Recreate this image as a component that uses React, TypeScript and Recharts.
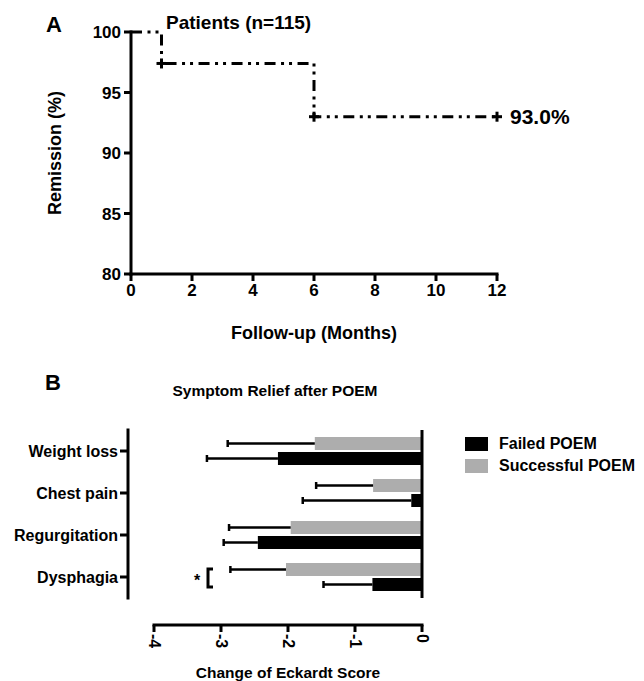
import React from 'react';
import {
  LineChart,
  Line,
  XAxis,
  YAxis,
  BarChart,
  Bar,
  ReferenceLine,
  Legend,
} from 'recharts';

const FONT = '"Liberation Sans", Arial, Helvetica, sans-serif';
const INK = '#000';
const GREY = '#adadad';

// Panel A: remission after POEM
const months = [0, 1, 6, 12];
const remission = [100, 97.4, 93.0, 93.0];
const censored = [false, true, true, true];
const monthTicks = [0, 2, 4, 6, 8, 10, 12];
const remissionTicks = [80, 85, 90, 95, 100];
const cohortLabel = 'Patients (n=115)';

// Panel B: change of Eckardt score per symptom (mean, SD)
const symptoms = ['Weight loss', 'Chest pain', 'Regurgitation', 'Dysphagia'];
const successfulMean = [-1.6, -0.73, -1.96, -2.03];
const successfulSd = [1.3, 0.85, 0.92, 0.83];
const failedMean = [-2.15, -0.16, -2.45, -0.74];
const failedSd = [1.06, 1.62, 0.51, 0.73];
const significant = [false, false, false, true];
const scoreTicks = [-4, -3, -2, -1, 0];
const legendOrder = ['Failed POEM', 'Successful POEM'];

const kmData = months.map((m, i) => ({
  month: m,
  remission: remission[i],
  censored: censored[i],
}));

const reliefData = symptoms.map((s, i) => ({
  symptom: s,
  successful: successfulMean[i],
  successfulSd: successfulSd[i],
  failed: failedMean[i],
  failedSd: failedSd[i],
  sig: significant[i],
}));

const tickStyle = { fill: INK, fontSize: 17, fontWeight: 700, fontFamily: FONT };
const lineStyle = { stroke: INK, strokeWidth: 3 };

function AxisTitle(props: any) {
  const { viewBox, text, vertical, shift = 0, size = 18 } = props;
  if (!viewBox) return null;
  const common = {
    fill: INK,
    fontSize: size,
    fontWeight: 700,
    fontFamily: FONT,
    textAnchor: 'middle' as const,
    dominantBaseline: 'central' as const,
  };
  if (vertical) {
    const x = viewBox.x + shift;
    const y = viewBox.y + viewBox.height / 2;
    return (
      <text {...common} x={x} y={y} transform={`rotate(-90 ${x} ${y})`}>
        {text}
      </text>
    );
  }
  return (
    <text {...common} x={viewBox.x + viewBox.width / 2} y={viewBox.y + shift}>
      {text}
    </text>
  );
}

function CensorMark(props: any) {
  const { cx, cy, payload } = props;
  if (!payload || !payload.censored) return <g />;
  const s = 5;
  return (
    <g>
      <line x1={cx - s} x2={cx + s} y1={cy} y2={cy} stroke={INK} strokeWidth={3} />
      <line x1={cx} x2={cx} y1={cy - s} y2={cy + s} stroke={INK} strokeWidth={3} />
    </g>
  );
}

function KmLabel(props: any) {
  const { x, y, index, value } = props;
  const base = { fill: INK, fontWeight: 700, fontFamily: FONT, dominantBaseline: 'central' as const };
  if (index === 0) {
    return (
      <text {...base} x={x + 35} y={y - 10} fontSize={19}>
        {cohortLabel}
      </text>
    );
  }
  if (index === months.length - 1) {
    return (
      <text {...base} x={x + 13} y={y} fontSize={21}>
        {Number(value).toFixed(1)}%
      </text>
    );
  }
  return null;
}

function makeBarShape(meanKey: string, sdKey: string) {
  return (props: any) => {
    const { x, y, width, height, fill, payload } = props;
    const left = Math.min(x, x + width);
    const w = Math.abs(width);
    const top = Math.min(y, y + height);
    const h = Math.abs(height);
    const mean = payload[meanKey];
    const pxPerUnit = mean !== 0 ? w / Math.abs(mean) : 0;
    const end = left - payload[sdKey] * pxPerUnit;
    const cy = top + h / 2;
    return (
      <g>
        <rect x={left} y={top} width={w} height={h} fill={fill} />
        <line x1={end} x2={left} y1={cy} y2={cy} stroke={INK} strokeWidth={2.5} />
        <line x1={end} x2={end} y1={cy - 3.5} y2={cy + 3.5} stroke={INK} strokeWidth={2.5} />
      </g>
    );
  };
}

function SymptomTick(props: any) {
  const { x, y, payload, index } = props;
  const sig = reliefData[index]?.sig;
  return (
    <g>
      <text
        x={x}
        y={y}
        textAnchor="end"
        dominantBaseline="central"
        fill={INK}
        fontSize={16}
        fontWeight={700}
        fontFamily={FONT}
      >
        {payload.value}
      </text>
      {sig && (
        <g>
          <text x={x + 79} y={y + 3} textAnchor="middle" dominantBaseline="central" fill={INK} fontSize={16} fontWeight={700} fontFamily={FONT}>
            *
          </text>
          <path
            d={`M ${x + 95} ${y - 8} H ${x + 90} V ${y + 10} H ${x + 95}`}
            fill="none"
            stroke={INK}
            strokeWidth={3}
          />
        </g>
      )}
    </g>
  );
}

function ScoreTick(props: any) {
  const { x, y, payload } = props;
  return (
    <text
      x={x}
      y={y}
      transform={`rotate(90 ${x} ${y})`}
      textAnchor="start"
      dominantBaseline="central"
      fill={INK}
      fontSize={16}
      fontWeight={700}
      fontFamily={FONT}
    >
      {payload.value}
    </text>
  );
}

function ReliefLegend(props: any) {
  const items = [...(props.payload || [])].sort(
    (a: any, b: any) => legendOrder.indexOf(a.value) - legendOrder.indexOf(b.value),
  );
  return (
    <div style={{ fontFamily: FONT }}>
      {items.map((it: any) => (
        <div key={it.value} style={{ display: 'flex', alignItems: 'center', height: 22 }}>
          <span style={{ width: 23, height: 14, background: it.color, display: 'inline-block' }} />
          <span style={{ marginLeft: 11, fontSize: 16, fontWeight: 700, color: INK }}>{it.value}</span>
        </div>
      ))}
    </div>
  );
}

const panelLetter = {
  position: 'absolute' as const,
  fontFamily: FONT,
  fontWeight: 700,
  fontSize: 22,
  lineHeight: '22px',
  color: INK,
};

export default function App() {
  return (
    <div
      style={{
        position: 'absolute',
        left: 0,
        top: 0,
        width: 644,
        height: 681,
        background: '#fff',
        overflow: 'hidden',
      }}
    >
      <div style={{ ...panelLetter, left: 46, top: 14 }}>A</div>
      <div style={{ ...panelLetter, left: 45, top: 372 }}>B</div>
      <div
        style={{
          position: 'absolute',
          left: 0,
          width: 550,
          top: 382,
          textAlign: 'center',
          fontFamily: FONT,
          fontWeight: 700,
          fontSize: 15.5,
          lineHeight: '18px',
          color: INK,
        }}
      >
        Symptom Relief after POEM
      </div>

      <div style={{ position: 'absolute', left: 0, top: 0 }}>
        <LineChart
          width={644}
          height={360}
          data={kmData}
          margin={{ top: 32, right: 147, left: 0, bottom: 0 }}
        >
          <XAxis
            dataKey="month"
            type="number"
            domain={[0, 12]}
            ticks={monthTicks}
            height={86}
            tickSize={7}
            tickMargin={3}
            axisLine={{ ...lineStyle, strokeLinecap: 'square' }}
            tickLine={lineStyle}
            tick={tickStyle}
            label={<AxisTitle text="Follow-up (Months)" shift={59} />}
          />
          <YAxis
            type="number"
            domain={[80, 100]}
            ticks={remissionTicks}
            width={131}
            tickSize={7}
            tickMargin={3}
            axisLine={{ ...lineStyle, strokeLinecap: 'square' }}
            tickLine={lineStyle}
            tick={tickStyle}
            label={<AxisTitle text="Remission (%)" vertical shift={55} />}
          />
          <Line
            dataKey="remission"
            type="stepAfter"
            stroke={INK}
            strokeWidth={3}
            strokeDasharray="11 5.5 3 5 3 5.5"
            dot={<CensorMark />}
            activeDot={false}
            label={<KmLabel />}
            isAnimationActive={false}
          />
        </LineChart>
      </div>

      <div style={{ position: 'absolute', left: 0, top: 360 }}>
        <BarChart
          width={644}
          height={321}
          data={reliefData}
          layout="vertical"
          margin={{ top: 70, right: 222, left: 0, bottom: 0 }}
          barSize={13}
          barGap={2}
        >
          <XAxis
            xAxisId="main"
            type="number"
            domain={[-4, 0]}
            ticks={scoreTicks}
            height={56}
            tickSize={7}
            tickMargin={2}
            axisLine={{ ...lineStyle, strokeLinecap: 'square' }}
            tickLine={lineStyle}
            tick={<ScoreTick />}
            label={<AxisTitle text="Change of Eckardt Score" shift={47} size={15.5} />}
          />
          <XAxis xAxisId="a_pad" type="number" domain={[-4, 0]} height={27} axisLine={false} tickLine={false} tick={false} />
          <YAxis
            yAxisId="main"
            type="category"
            dataKey="symptom"
            width={128}
            tickSize={8}
            tickMargin={2}
            axisLine={{ ...lineStyle, strokeLinecap: 'square' }}
            tickLine={lineStyle}
            tick={<SymptomTick />}
          />
          <YAxis yAxisId="a_pad" type="category" dataKey="symptom" width={26} axisLine={false} tickLine={false} tick={false} />
          <Bar
            xAxisId="main"
            yAxisId="main"
            dataKey="successful"
            name="Successful POEM"
            fill={GREY}
            shape={makeBarShape('successful', 'successfulSd')}
            isAnimationActive={false}
          />
          <Bar
            xAxisId="main"
            yAxisId="main"
            dataKey="failed"
            name="Failed POEM"
            fill={INK}
            shape={makeBarShape('failed', 'failedSd')}
            isAnimationActive={false}
          />
          <ReferenceLine xAxisId="main" yAxisId="main" x={0} stroke={INK} strokeWidth={3} />
          <Legend
            layout="vertical"
            align="center"
            verticalAlign="middle"
            content={<ReliefLegend />}
            wrapperStyle={{ left: 465, top: 73, width: 180, height: 50 }}
          />
        </BarChart>
      </div>
    </div>
  );
}
